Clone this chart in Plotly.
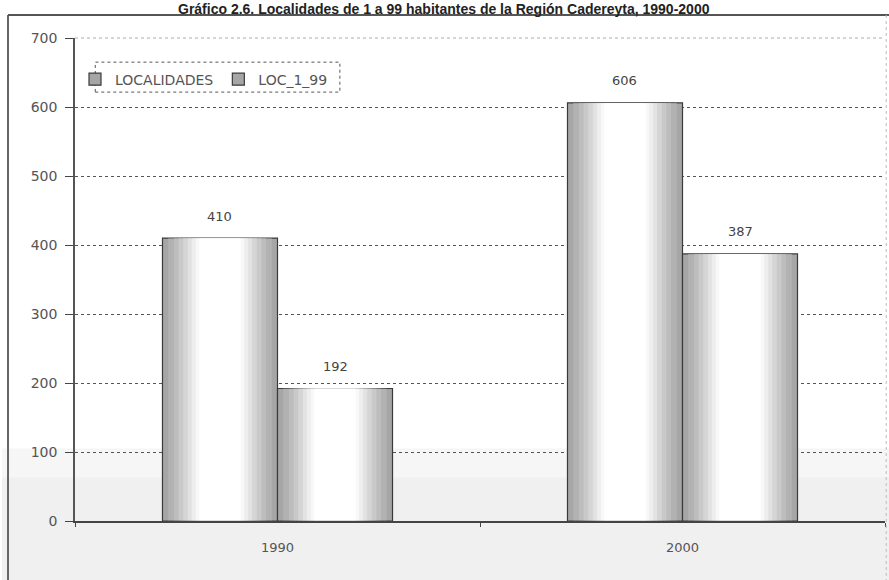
import plotly.graph_objects as go

# ---- data ----
categories = ["1990", "2000"]
series_names = ["LOCALIDADES", "LOC_1_99"]
localidades = [410, 606]
loc_1_99 = [192, 387]
y_ticks = [0, 100, 200, 300, 400, 500, 600, 700]
title_text = "Gráfico 2.6. Localidades de 1 a 99 habitantes de la Región Cadereyta, 1990-2000"

series_values = [localidades, loc_1_99]

FONT = "DejaVu Sans"
TXT = "#555555"
W = 0.284  # bar width in category units
base_offsets = [-W, 0.0]

# shading layers (fraction of bar width, colour) to imitate the cylinder gradient
layers = [(0.90, "#b2b2b2"), (0.80, "#bdbdbd"), (0.72, "#c9c9c9"), (0.64, "#d5d5d5"),
          (0.56, "#e2e2e2"), (0.49, "#eeeeee"), (0.42, "#f8f8f8"), (0.36, "#ffffff")]

fig = go.Figure()

for s, (name, vals) in enumerate(zip(series_names, series_values)):
    off = base_offsets[s]
    fig.add_trace(go.Bar(
        x=categories, y=vals, name=name, width=W, offset=off,
        marker=dict(color="#a6a6a6", line=dict(color="#3a3a3a", width=1.2)),
        showlegend=True, hoverinfo="skip",
    ))
    for frac, col in layers:
        fig.add_trace(go.Bar(
            x=categories, y=[v - 1.5 for v in vals], base=[1.0] * len(vals),
            width=W * frac, offset=off + W * (1 - frac) / 2,
            marker=dict(color=col, line=dict(width=0)),
            showlegend=False, hoverinfo="skip",
        ))

annotations = []
for s, vals in enumerate(series_values):
    for i, v in enumerate(vals):
        annotations.append(dict(
            x=i + base_offsets[s] + W / 2, y=v, xref="x", yref="y",
            text=str(v), showarrow=False, yshift=22,
            font=dict(family=FONT, size=13, color="#444444"),
        ))

annotations.append(dict(
    x=0.4556, y=1.0787, xref="paper", yref="paper", xanchor="center", yanchor="top",
    text="<b>" + title_text + "</b>", showarrow=False, borderpad=0,
    font=dict(family="Liberation Sans", size=14, color="#222222"),
))

shapes = [
    dict(type="rect", xref="paper", yref="paper", x0=-0.09, x1=1.01, y0=-0.13, y1=0.15,
         fillcolor="#f6f6f6", line=dict(width=0), layer="below"),
    dict(type="rect", xref="paper", yref="paper", x0=-0.09, x1=1.01, y0=-0.13, y1=0.09,
         fillcolor="#f0f0f0", line=dict(width=0), layer="below"),
    dict(type="line", xref="paper", yref="paper", x0=0, x1=1.0, y0=1, y1=1,
         line=dict(color="white", width=2), layer="above"),
    dict(type="line", xref="paper", yref="paper", x0=0, x1=1.0, y0=1, y1=1,
         line=dict(color="#aaaaaa", width=1, dash="dot"), layer="above"),
    dict(type="line", xref="paper", yref="paper", x0=-0.0827, x1=-0.0827, y0=1.0476, y1=-0.13,
         line=dict(color="#666666", width=2)),
    dict(type="line", xref="paper", yref="paper", x0=-0.0827, x1=1.01, y0=1.0476, y1=1.0476,
         line=dict(color="#555555", width=2)),
    dict(type="line", xref="paper", yref="paper", x0=1.0015, x1=1.0015, y0=1.0476, y1=-0.13,
         line=dict(color="#bbbbbb", width=1, dash="dot")),
    dict(type="rect", xref="paper", yref="paper", x0=0.025, x1=0.327, y0=0.888, y1=0.950,
         line=dict(color="#555555", width=1, dash="dot"), fillcolor="white", layer="below"),
]

fig.update_layout(
    width=889, height=580,
    margin=dict(l=75, r=4, t=38, b=59),
    barmode="overlay",
    paper_bgcolor="white",
    plot_bgcolor="rgba(0,0,0,0)",
    font=dict(family=FONT, size=13, color=TXT),
    showlegend=True,
    legend=dict(orientation="h", x=0.0, y=0.947, xanchor="left", yanchor="top",
                bgcolor="rgba(0,0,0,0)", borderwidth=0,
                font=dict(family=FONT, size=14, color=TXT),
                itemwidth=30, tracegroupgap=0),
    annotations=annotations,
    shapes=shapes,
)

fig.update_xaxes(
    type="category", range=[-0.5, 1.5],
    showline=True, linecolor="#444444", linewidth=1.5,
    ticks="outside", tickson="boundaries", ticklen=4, tickcolor="#444444",
    ticklabelstandoff=14, showgrid=False,
    tickfont=dict(family=FONT, size=13, color=TXT),
)
fig.update_yaxes(
    range=[0, 700], tickvals=y_ticks,
    showline=True, linecolor="#555555", linewidth=1.5,
    ticks="outside", ticklen=8, tickcolor="#444444", ticklabelstandoff=5,
    showgrid=True, gridcolor="#555555", gridwidth=1, griddash="dot",
    zeroline=False,
    tickfont=dict(family=FONT, size=14, color=TXT),
)

fig.write_html("out.html",
               config={"displayModeBar": False},
               post_script="document.body.style.margin='0';document.body.style.padding='0';")
